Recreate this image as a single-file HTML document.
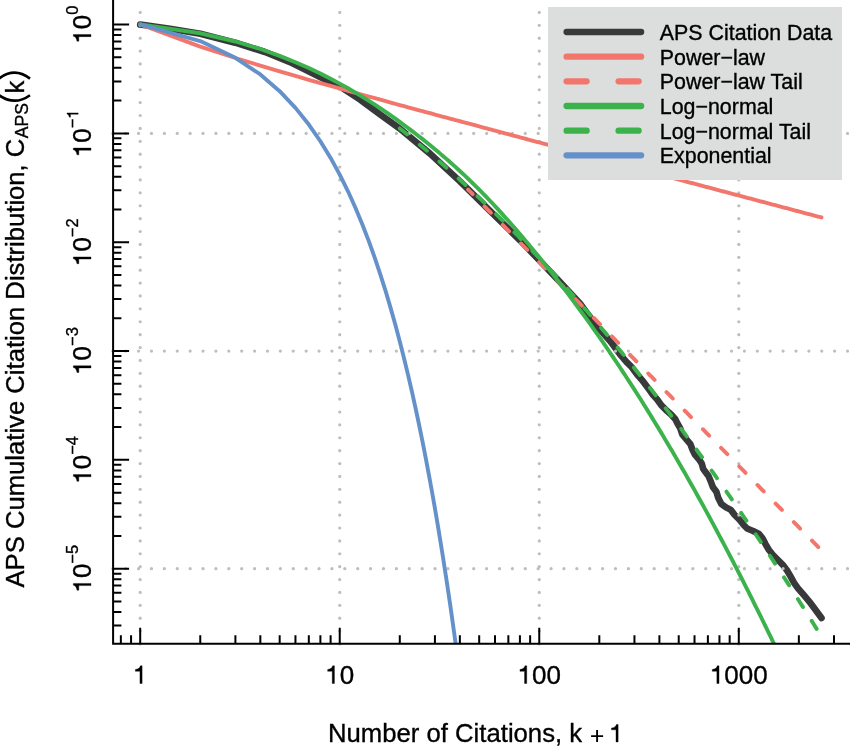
<!DOCTYPE html>
<html><head><meta charset="utf-8"><style>
html,body{margin:0;padding:0;background:#fff;}
body{width:850px;height:746px;overflow:hidden;font-family:"Liberation Sans",sans-serif;}
svg{display:block;will-change:transform;}
text{stroke:#000;stroke-width:0.35px;}
</style></head><body>
<svg width="850" height="746" viewBox="0 0 850 746"><defs><clipPath id="pc"><rect x="113" y="-10" width="750" height="654"/></clipPath></defs><g clip-path="url(#pc)" fill="none" stroke-linecap="round" stroke-linejoin="round"><path d="M140.20,24.60 L170.00,28.80 L200.30,33.70 L235.20,42.70 L265.00,52.00 L290.00,62.10 L320.00,77.00 L340.00,86.40 L360.00,99.50 L380.00,114.40 L400.00,128.70 L430.00,153.60 L460.00,181.40 L490.00,210.80 L520.00,240.30 L540.00,261.00 L560.00,282.00 L580.00,303.50 L596.70,326.10 L603.70,333.90 L610.70,341.80 L615.90,348.70 L621.10,355.70 L626.40,361.80 L631.60,367.00 L636.80,374.00 L642.00,380.10 L648.60,388.80 L652.90,394.70 L657.20,399.50 L661.40,405.40 L665.70,409.70 L671.10,414.50 L675.40,419.30 L677.00,422.70 L680.40,428.70 L682.40,434.70 L686.40,439.40 L690.40,444.10 L692.40,449.50 L695.10,454.90 L699.10,459.50 L701.80,463.60 L703.20,468.90 L704.90,471.20 L708.50,476.00 L711.00,482.10 L712.80,486.90 L716.40,491.70 L718.20,497.80 L721.20,503.80 L726.00,507.40 L730.90,509.90 L734.50,514.70 L739.50,519.80 L744.10,525.50 L747.10,528.50 L753.10,531.00 L759.10,534.00 L762.80,538.80 L765.20,543.60 L768.80,549.70 L773.60,555.70 L778.50,560.50 L783.30,565.40 L786.90,570.20 L790.40,576.10 L794.10,582.80 L797.80,588.10 L803.50,594.70 L809.10,601.30 L814.70,608.80 L821.50,618.00" stroke="#38393b" stroke-width="6.6"/></g><g fill="#bebebe"><circle cx="112.80" cy="133.38" r="1.6"/><circle cx="125.69" cy="133.38" r="1.6"/><circle cx="138.58" cy="133.38" r="1.6"/><circle cx="151.47" cy="133.38" r="1.6"/><circle cx="164.36" cy="133.38" r="1.6"/><circle cx="177.25" cy="133.38" r="1.6"/><circle cx="190.14" cy="133.38" r="1.6"/><circle cx="203.03" cy="133.38" r="1.6"/><circle cx="215.92" cy="133.38" r="1.6"/><circle cx="228.81" cy="133.38" r="1.6"/><circle cx="241.70" cy="133.38" r="1.6"/><circle cx="254.59" cy="133.38" r="1.6"/><circle cx="267.48" cy="133.38" r="1.6"/><circle cx="280.37" cy="133.38" r="1.6"/><circle cx="293.26" cy="133.38" r="1.6"/><circle cx="306.15" cy="133.38" r="1.6"/><circle cx="319.04" cy="133.38" r="1.6"/><circle cx="331.93" cy="133.38" r="1.6"/><circle cx="344.82" cy="133.38" r="1.6"/><circle cx="357.71" cy="133.38" r="1.6"/><circle cx="370.60" cy="133.38" r="1.6"/><circle cx="383.49" cy="133.38" r="1.6"/><circle cx="396.38" cy="133.38" r="1.6"/><circle cx="409.27" cy="133.38" r="1.6"/><circle cx="422.16" cy="133.38" r="1.6"/><circle cx="435.05" cy="133.38" r="1.6"/><circle cx="447.94" cy="133.38" r="1.6"/><circle cx="460.83" cy="133.38" r="1.6"/><circle cx="473.72" cy="133.38" r="1.6"/><circle cx="486.61" cy="133.38" r="1.6"/><circle cx="499.50" cy="133.38" r="1.6"/><circle cx="512.39" cy="133.38" r="1.6"/><circle cx="525.28" cy="133.38" r="1.6"/><circle cx="538.17" cy="133.38" r="1.6"/><circle cx="551.06" cy="133.38" r="1.6"/><circle cx="563.95" cy="133.38" r="1.6"/><circle cx="576.84" cy="133.38" r="1.6"/><circle cx="589.73" cy="133.38" r="1.6"/><circle cx="602.62" cy="133.38" r="1.6"/><circle cx="615.51" cy="133.38" r="1.6"/><circle cx="628.40" cy="133.38" r="1.6"/><circle cx="641.29" cy="133.38" r="1.6"/><circle cx="654.18" cy="133.38" r="1.6"/><circle cx="667.07" cy="133.38" r="1.6"/><circle cx="679.96" cy="133.38" r="1.6"/><circle cx="692.85" cy="133.38" r="1.6"/><circle cx="705.74" cy="133.38" r="1.6"/><circle cx="718.63" cy="133.38" r="1.6"/><circle cx="731.52" cy="133.38" r="1.6"/><circle cx="744.41" cy="133.38" r="1.6"/><circle cx="757.30" cy="133.38" r="1.6"/><circle cx="770.19" cy="133.38" r="1.6"/><circle cx="783.08" cy="133.38" r="1.6"/><circle cx="795.97" cy="133.38" r="1.6"/><circle cx="808.86" cy="133.38" r="1.6"/><circle cx="821.75" cy="133.38" r="1.6"/><circle cx="834.64" cy="133.38" r="1.6"/><circle cx="847.53" cy="133.38" r="1.6"/><circle cx="112.80" cy="351.04" r="1.6"/><circle cx="125.69" cy="351.04" r="1.6"/><circle cx="138.58" cy="351.04" r="1.6"/><circle cx="151.47" cy="351.04" r="1.6"/><circle cx="164.36" cy="351.04" r="1.6"/><circle cx="177.25" cy="351.04" r="1.6"/><circle cx="190.14" cy="351.04" r="1.6"/><circle cx="203.03" cy="351.04" r="1.6"/><circle cx="215.92" cy="351.04" r="1.6"/><circle cx="228.81" cy="351.04" r="1.6"/><circle cx="241.70" cy="351.04" r="1.6"/><circle cx="254.59" cy="351.04" r="1.6"/><circle cx="267.48" cy="351.04" r="1.6"/><circle cx="280.37" cy="351.04" r="1.6"/><circle cx="293.26" cy="351.04" r="1.6"/><circle cx="306.15" cy="351.04" r="1.6"/><circle cx="319.04" cy="351.04" r="1.6"/><circle cx="331.93" cy="351.04" r="1.6"/><circle cx="344.82" cy="351.04" r="1.6"/><circle cx="357.71" cy="351.04" r="1.6"/><circle cx="370.60" cy="351.04" r="1.6"/><circle cx="383.49" cy="351.04" r="1.6"/><circle cx="396.38" cy="351.04" r="1.6"/><circle cx="409.27" cy="351.04" r="1.6"/><circle cx="422.16" cy="351.04" r="1.6"/><circle cx="435.05" cy="351.04" r="1.6"/><circle cx="447.94" cy="351.04" r="1.6"/><circle cx="460.83" cy="351.04" r="1.6"/><circle cx="473.72" cy="351.04" r="1.6"/><circle cx="486.61" cy="351.04" r="1.6"/><circle cx="499.50" cy="351.04" r="1.6"/><circle cx="512.39" cy="351.04" r="1.6"/><circle cx="525.28" cy="351.04" r="1.6"/><circle cx="538.17" cy="351.04" r="1.6"/><circle cx="551.06" cy="351.04" r="1.6"/><circle cx="563.95" cy="351.04" r="1.6"/><circle cx="576.84" cy="351.04" r="1.6"/><circle cx="589.73" cy="351.04" r="1.6"/><circle cx="602.62" cy="351.04" r="1.6"/><circle cx="615.51" cy="351.04" r="1.6"/><circle cx="628.40" cy="351.04" r="1.6"/><circle cx="641.29" cy="351.04" r="1.6"/><circle cx="654.18" cy="351.04" r="1.6"/><circle cx="667.07" cy="351.04" r="1.6"/><circle cx="679.96" cy="351.04" r="1.6"/><circle cx="692.85" cy="351.04" r="1.6"/><circle cx="705.74" cy="351.04" r="1.6"/><circle cx="718.63" cy="351.04" r="1.6"/><circle cx="731.52" cy="351.04" r="1.6"/><circle cx="744.41" cy="351.04" r="1.6"/><circle cx="757.30" cy="351.04" r="1.6"/><circle cx="770.19" cy="351.04" r="1.6"/><circle cx="783.08" cy="351.04" r="1.6"/><circle cx="795.97" cy="351.04" r="1.6"/><circle cx="808.86" cy="351.04" r="1.6"/><circle cx="821.75" cy="351.04" r="1.6"/><circle cx="834.64" cy="351.04" r="1.6"/><circle cx="847.53" cy="351.04" r="1.6"/><circle cx="112.80" cy="568.70" r="1.6"/><circle cx="125.69" cy="568.70" r="1.6"/><circle cx="138.58" cy="568.70" r="1.6"/><circle cx="151.47" cy="568.70" r="1.6"/><circle cx="164.36" cy="568.70" r="1.6"/><circle cx="177.25" cy="568.70" r="1.6"/><circle cx="190.14" cy="568.70" r="1.6"/><circle cx="203.03" cy="568.70" r="1.6"/><circle cx="215.92" cy="568.70" r="1.6"/><circle cx="228.81" cy="568.70" r="1.6"/><circle cx="241.70" cy="568.70" r="1.6"/><circle cx="254.59" cy="568.70" r="1.6"/><circle cx="267.48" cy="568.70" r="1.6"/><circle cx="280.37" cy="568.70" r="1.6"/><circle cx="293.26" cy="568.70" r="1.6"/><circle cx="306.15" cy="568.70" r="1.6"/><circle cx="319.04" cy="568.70" r="1.6"/><circle cx="331.93" cy="568.70" r="1.6"/><circle cx="344.82" cy="568.70" r="1.6"/><circle cx="357.71" cy="568.70" r="1.6"/><circle cx="370.60" cy="568.70" r="1.6"/><circle cx="383.49" cy="568.70" r="1.6"/><circle cx="396.38" cy="568.70" r="1.6"/><circle cx="409.27" cy="568.70" r="1.6"/><circle cx="422.16" cy="568.70" r="1.6"/><circle cx="435.05" cy="568.70" r="1.6"/><circle cx="447.94" cy="568.70" r="1.6"/><circle cx="460.83" cy="568.70" r="1.6"/><circle cx="473.72" cy="568.70" r="1.6"/><circle cx="486.61" cy="568.70" r="1.6"/><circle cx="499.50" cy="568.70" r="1.6"/><circle cx="512.39" cy="568.70" r="1.6"/><circle cx="525.28" cy="568.70" r="1.6"/><circle cx="538.17" cy="568.70" r="1.6"/><circle cx="551.06" cy="568.70" r="1.6"/><circle cx="563.95" cy="568.70" r="1.6"/><circle cx="576.84" cy="568.70" r="1.6"/><circle cx="589.73" cy="568.70" r="1.6"/><circle cx="602.62" cy="568.70" r="1.6"/><circle cx="615.51" cy="568.70" r="1.6"/><circle cx="628.40" cy="568.70" r="1.6"/><circle cx="641.29" cy="568.70" r="1.6"/><circle cx="654.18" cy="568.70" r="1.6"/><circle cx="667.07" cy="568.70" r="1.6"/><circle cx="679.96" cy="568.70" r="1.6"/><circle cx="692.85" cy="568.70" r="1.6"/><circle cx="705.74" cy="568.70" r="1.6"/><circle cx="718.63" cy="568.70" r="1.6"/><circle cx="731.52" cy="568.70" r="1.6"/><circle cx="744.41" cy="568.70" r="1.6"/><circle cx="757.30" cy="568.70" r="1.6"/><circle cx="770.19" cy="568.70" r="1.6"/><circle cx="783.08" cy="568.70" r="1.6"/><circle cx="795.97" cy="568.70" r="1.6"/><circle cx="808.86" cy="568.70" r="1.6"/><circle cx="821.75" cy="568.70" r="1.6"/><circle cx="834.64" cy="568.70" r="1.6"/><circle cx="847.53" cy="568.70" r="1.6"/><circle cx="140.20" cy="644.00" r="1.6"/><circle cx="140.20" cy="631.11" r="1.6"/><circle cx="140.20" cy="618.22" r="1.6"/><circle cx="140.20" cy="605.33" r="1.6"/><circle cx="140.20" cy="592.44" r="1.6"/><circle cx="140.20" cy="579.55" r="1.6"/><circle cx="140.20" cy="566.66" r="1.6"/><circle cx="140.20" cy="553.77" r="1.6"/><circle cx="140.20" cy="540.88" r="1.6"/><circle cx="140.20" cy="527.99" r="1.6"/><circle cx="140.20" cy="515.10" r="1.6"/><circle cx="140.20" cy="502.21" r="1.6"/><circle cx="140.20" cy="489.32" r="1.6"/><circle cx="140.20" cy="476.43" r="1.6"/><circle cx="140.20" cy="463.54" r="1.6"/><circle cx="140.20" cy="450.65" r="1.6"/><circle cx="140.20" cy="437.76" r="1.6"/><circle cx="140.20" cy="424.87" r="1.6"/><circle cx="140.20" cy="411.98" r="1.6"/><circle cx="140.20" cy="399.09" r="1.6"/><circle cx="140.20" cy="386.20" r="1.6"/><circle cx="140.20" cy="373.31" r="1.6"/><circle cx="140.20" cy="360.42" r="1.6"/><circle cx="140.20" cy="347.53" r="1.6"/><circle cx="140.20" cy="334.64" r="1.6"/><circle cx="140.20" cy="321.75" r="1.6"/><circle cx="140.20" cy="308.86" r="1.6"/><circle cx="140.20" cy="295.97" r="1.6"/><circle cx="140.20" cy="283.08" r="1.6"/><circle cx="140.20" cy="270.19" r="1.6"/><circle cx="140.20" cy="257.30" r="1.6"/><circle cx="140.20" cy="244.41" r="1.6"/><circle cx="140.20" cy="231.52" r="1.6"/><circle cx="140.20" cy="218.63" r="1.6"/><circle cx="140.20" cy="205.74" r="1.6"/><circle cx="140.20" cy="192.85" r="1.6"/><circle cx="140.20" cy="179.96" r="1.6"/><circle cx="140.20" cy="167.07" r="1.6"/><circle cx="140.20" cy="154.18" r="1.6"/><circle cx="140.20" cy="141.29" r="1.6"/><circle cx="140.20" cy="128.40" r="1.6"/><circle cx="140.20" cy="115.51" r="1.6"/><circle cx="140.20" cy="102.62" r="1.6"/><circle cx="140.20" cy="89.73" r="1.6"/><circle cx="140.20" cy="76.84" r="1.6"/><circle cx="140.20" cy="63.95" r="1.6"/><circle cx="140.20" cy="51.06" r="1.6"/><circle cx="140.20" cy="38.17" r="1.6"/><circle cx="140.20" cy="25.28" r="1.6"/><circle cx="140.20" cy="12.39" r="1.6"/><circle cx="339.73" cy="644.00" r="1.6"/><circle cx="339.73" cy="631.11" r="1.6"/><circle cx="339.73" cy="618.22" r="1.6"/><circle cx="339.73" cy="605.33" r="1.6"/><circle cx="339.73" cy="592.44" r="1.6"/><circle cx="339.73" cy="579.55" r="1.6"/><circle cx="339.73" cy="566.66" r="1.6"/><circle cx="339.73" cy="553.77" r="1.6"/><circle cx="339.73" cy="540.88" r="1.6"/><circle cx="339.73" cy="527.99" r="1.6"/><circle cx="339.73" cy="515.10" r="1.6"/><circle cx="339.73" cy="502.21" r="1.6"/><circle cx="339.73" cy="489.32" r="1.6"/><circle cx="339.73" cy="476.43" r="1.6"/><circle cx="339.73" cy="463.54" r="1.6"/><circle cx="339.73" cy="450.65" r="1.6"/><circle cx="339.73" cy="437.76" r="1.6"/><circle cx="339.73" cy="424.87" r="1.6"/><circle cx="339.73" cy="411.98" r="1.6"/><circle cx="339.73" cy="399.09" r="1.6"/><circle cx="339.73" cy="386.20" r="1.6"/><circle cx="339.73" cy="373.31" r="1.6"/><circle cx="339.73" cy="360.42" r="1.6"/><circle cx="339.73" cy="347.53" r="1.6"/><circle cx="339.73" cy="334.64" r="1.6"/><circle cx="339.73" cy="321.75" r="1.6"/><circle cx="339.73" cy="308.86" r="1.6"/><circle cx="339.73" cy="295.97" r="1.6"/><circle cx="339.73" cy="283.08" r="1.6"/><circle cx="339.73" cy="270.19" r="1.6"/><circle cx="339.73" cy="257.30" r="1.6"/><circle cx="339.73" cy="244.41" r="1.6"/><circle cx="339.73" cy="231.52" r="1.6"/><circle cx="339.73" cy="218.63" r="1.6"/><circle cx="339.73" cy="205.74" r="1.6"/><circle cx="339.73" cy="192.85" r="1.6"/><circle cx="339.73" cy="179.96" r="1.6"/><circle cx="339.73" cy="167.07" r="1.6"/><circle cx="339.73" cy="154.18" r="1.6"/><circle cx="339.73" cy="141.29" r="1.6"/><circle cx="339.73" cy="128.40" r="1.6"/><circle cx="339.73" cy="115.51" r="1.6"/><circle cx="339.73" cy="102.62" r="1.6"/><circle cx="339.73" cy="89.73" r="1.6"/><circle cx="339.73" cy="76.84" r="1.6"/><circle cx="339.73" cy="63.95" r="1.6"/><circle cx="339.73" cy="51.06" r="1.6"/><circle cx="339.73" cy="38.17" r="1.6"/><circle cx="339.73" cy="25.28" r="1.6"/><circle cx="339.73" cy="12.39" r="1.6"/><circle cx="539.26" cy="644.00" r="1.6"/><circle cx="539.26" cy="631.11" r="1.6"/><circle cx="539.26" cy="618.22" r="1.6"/><circle cx="539.26" cy="605.33" r="1.6"/><circle cx="539.26" cy="592.44" r="1.6"/><circle cx="539.26" cy="579.55" r="1.6"/><circle cx="539.26" cy="566.66" r="1.6"/><circle cx="539.26" cy="553.77" r="1.6"/><circle cx="539.26" cy="540.88" r="1.6"/><circle cx="539.26" cy="527.99" r="1.6"/><circle cx="539.26" cy="515.10" r="1.6"/><circle cx="539.26" cy="502.21" r="1.6"/><circle cx="539.26" cy="489.32" r="1.6"/><circle cx="539.26" cy="476.43" r="1.6"/><circle cx="539.26" cy="463.54" r="1.6"/><circle cx="539.26" cy="450.65" r="1.6"/><circle cx="539.26" cy="437.76" r="1.6"/><circle cx="539.26" cy="424.87" r="1.6"/><circle cx="539.26" cy="411.98" r="1.6"/><circle cx="539.26" cy="399.09" r="1.6"/><circle cx="539.26" cy="386.20" r="1.6"/><circle cx="539.26" cy="373.31" r="1.6"/><circle cx="539.26" cy="360.42" r="1.6"/><circle cx="539.26" cy="347.53" r="1.6"/><circle cx="539.26" cy="334.64" r="1.6"/><circle cx="539.26" cy="321.75" r="1.6"/><circle cx="539.26" cy="308.86" r="1.6"/><circle cx="539.26" cy="295.97" r="1.6"/><circle cx="539.26" cy="283.08" r="1.6"/><circle cx="539.26" cy="270.19" r="1.6"/><circle cx="539.26" cy="257.30" r="1.6"/><circle cx="539.26" cy="244.41" r="1.6"/><circle cx="539.26" cy="231.52" r="1.6"/><circle cx="539.26" cy="218.63" r="1.6"/><circle cx="539.26" cy="205.74" r="1.6"/><circle cx="539.26" cy="192.85" r="1.6"/><circle cx="539.26" cy="179.96" r="1.6"/><circle cx="539.26" cy="167.07" r="1.6"/><circle cx="539.26" cy="154.18" r="1.6"/><circle cx="539.26" cy="141.29" r="1.6"/><circle cx="539.26" cy="128.40" r="1.6"/><circle cx="539.26" cy="115.51" r="1.6"/><circle cx="539.26" cy="102.62" r="1.6"/><circle cx="539.26" cy="89.73" r="1.6"/><circle cx="539.26" cy="76.84" r="1.6"/><circle cx="539.26" cy="63.95" r="1.6"/><circle cx="539.26" cy="51.06" r="1.6"/><circle cx="539.26" cy="38.17" r="1.6"/><circle cx="539.26" cy="25.28" r="1.6"/><circle cx="539.26" cy="12.39" r="1.6"/><circle cx="738.79" cy="644.00" r="1.6"/><circle cx="738.79" cy="631.11" r="1.6"/><circle cx="738.79" cy="618.22" r="1.6"/><circle cx="738.79" cy="605.33" r="1.6"/><circle cx="738.79" cy="592.44" r="1.6"/><circle cx="738.79" cy="579.55" r="1.6"/><circle cx="738.79" cy="566.66" r="1.6"/><circle cx="738.79" cy="553.77" r="1.6"/><circle cx="738.79" cy="540.88" r="1.6"/><circle cx="738.79" cy="527.99" r="1.6"/><circle cx="738.79" cy="515.10" r="1.6"/><circle cx="738.79" cy="502.21" r="1.6"/><circle cx="738.79" cy="489.32" r="1.6"/><circle cx="738.79" cy="476.43" r="1.6"/><circle cx="738.79" cy="463.54" r="1.6"/><circle cx="738.79" cy="450.65" r="1.6"/><circle cx="738.79" cy="437.76" r="1.6"/><circle cx="738.79" cy="424.87" r="1.6"/><circle cx="738.79" cy="411.98" r="1.6"/><circle cx="738.79" cy="399.09" r="1.6"/><circle cx="738.79" cy="386.20" r="1.6"/><circle cx="738.79" cy="373.31" r="1.6"/><circle cx="738.79" cy="360.42" r="1.6"/><circle cx="738.79" cy="347.53" r="1.6"/><circle cx="738.79" cy="334.64" r="1.6"/><circle cx="738.79" cy="321.75" r="1.6"/><circle cx="738.79" cy="308.86" r="1.6"/><circle cx="738.79" cy="295.97" r="1.6"/><circle cx="738.79" cy="283.08" r="1.6"/><circle cx="738.79" cy="270.19" r="1.6"/><circle cx="738.79" cy="257.30" r="1.6"/><circle cx="738.79" cy="244.41" r="1.6"/><circle cx="738.79" cy="231.52" r="1.6"/><circle cx="738.79" cy="218.63" r="1.6"/><circle cx="738.79" cy="205.74" r="1.6"/><circle cx="738.79" cy="192.85" r="1.6"/><circle cx="738.79" cy="179.96" r="1.6"/><circle cx="738.79" cy="167.07" r="1.6"/><circle cx="738.79" cy="154.18" r="1.6"/><circle cx="738.79" cy="141.29" r="1.6"/><circle cx="738.79" cy="128.40" r="1.6"/><circle cx="738.79" cy="115.51" r="1.6"/><circle cx="738.79" cy="102.62" r="1.6"/><circle cx="738.79" cy="89.73" r="1.6"/><circle cx="738.79" cy="76.84" r="1.6"/><circle cx="738.79" cy="63.95" r="1.6"/><circle cx="738.79" cy="51.06" r="1.6"/><circle cx="738.79" cy="38.17" r="1.6"/><circle cx="738.79" cy="25.28" r="1.6"/><circle cx="738.79" cy="12.39" r="1.6"/></g><g clip-path="url(#pc)" fill="none" stroke-linecap="round" stroke-linejoin="round" stroke-width="3.9"><path d="M140.20,24.40 L200.26,46.61 L235.40,58.00 L260.33,65.63 L279.67,71.36 L295.46,75.95 L308.82,79.78 L320.39,83.06 L330.60,85.94 L339.73,88.49 L347.99,90.79 L355.53,92.88 L362.47,94.79 L368.89,96.56 L374.87,98.21 L380.46,99.74 L385.71,101.17 L390.66,102.53 L395.35,103.80 L399.79,105.01 L404.02,106.16 L408.05,107.26 L411.91,108.30 L415.59,109.30 L419.13,110.26 L422.53,111.18 L425.80,112.07 L428.95,112.92 L431.99,113.74 L434.93,114.53 L437.77,115.30 L440.52,116.04 L443.19,116.76 L445.78,117.46 L448.29,118.13 L450.73,118.79 L453.10,119.43 L455.41,120.05 L457.67,120.65 L459.86,121.24 L462.00,121.82 L464.09,122.38 L466.13,122.93 L468.12,123.46 L470.07,123.98 L471.97,124.49 L473.83,124.99 L475.66,125.48 L477.44,125.96 L479.20,126.43 L480.91,126.89 L482.59,127.34 L484.24,127.79 L485.86,128.22 L487.45,128.64 L489.02,129.06 L490.55,129.47 L492.06,129.88 L493.54,130.27 L494.99,130.66 L497.84,131.42 L500.59,132.16 L503.25,132.87 L505.84,133.56 L508.35,134.24 L510.79,134.89 L513.17,135.52 L515.48,136.14 L517.73,136.74 L519.92,137.33 L522.06,137.90 L524.15,138.45 L526.19,139.00 L528.18,139.53 L530.13,140.05 L532.03,140.56 L533.90,141.06 L535.72,141.54 L537.51,142.02 L539.26,142.49 L541.82,143.17 L544.31,143.83 L546.73,144.48 L549.08,145.10 L551.37,145.71 L553.60,146.31 L555.78,146.89 L557.90,147.45 L559.97,148.01 L562.00,148.55 L563.97,149.07 L565.91,149.59 L567.80,150.09 L569.65,150.58 L571.46,151.07 L573.23,151.54 L574.97,152.00 L577.24,152.60 L579.44,153.19 L581.60,153.77 L583.70,154.32 L585.75,154.87 L587.75,155.40 L589.71,155.92 L591.63,156.43 L593.50,156.93 L595.33,157.42 L597.13,157.90 L598.89,158.37 L600.61,158.83 L602.72,159.39 L604.78,159.93 L606.79,160.47 L608.76,160.99 L610.68,161.50 L612.56,162.00 L614.40,162.49 L616.20,162.97 L617.96,163.44 L619.69,163.90 L621.73,164.44 L623.71,164.97 L625.65,165.48 L627.55,165.99 L629.40,166.48 L631.22,166.96 L633.00,167.44 L634.75,167.90 L636.74,168.43 L638.69,168.95 L640.59,169.45 L642.46,169.95 L644.28,170.43 L646.07,170.91 L647.82,171.37 L649.78,171.90 L651.69,172.40 L653.57,172.90 L655.40,173.39 L657.20,173.87 L658.95,174.33 L660.68,174.79 L662.58,175.30 L664.44,175.79 L666.26,176.27 L668.04,176.75 L669.79,177.21 L671.69,177.72 L673.55,178.21 L675.37,178.69 L677.15,179.17 L678.90,179.63 L680.78,180.13 L682.62,180.62 L684.43,181.10 L686.19,181.57 L687.92,182.03 L689.78,182.52 L691.59,183.00 L693.36,183.47 L695.10,183.94 L696.95,184.43 L698.75,184.91 L700.52,185.38 L702.26,185.84 L704.09,186.32 L705.88,186.80 L707.63,187.26 L709.36,187.72 L711.16,188.20 L712.93,188.67 L714.67,189.13 L716.48,189.61 L718.25,190.08 L719.99,190.55 L721.80,191.03 L723.58,191.50 L725.32,191.96 L727.12,192.44 L728.89,192.91 L730.62,193.37 L732.41,193.84 L734.16,194.31 L735.88,194.76 L737.66,195.24 L739.39,195.70 L741.18,196.17 L742.94,196.64 L744.65,197.09 L746.42,197.56 L748.15,198.02 L749.92,198.49 L751.65,198.95 L753.43,199.42 L755.16,199.88 L756.94,200.35 L758.68,200.82 L760.45,201.29 L762.19,201.75 L763.96,202.22 L765.69,202.68 L767.45,203.14 L769.18,203.60 L770.93,204.07 L772.65,204.52 L774.39,204.99 L776.15,205.45 L777.88,205.91 L779.63,206.38 L781.39,206.85 L783.12,207.31 L784.87,207.77 L786.64,208.24 L788.37,208.70 L790.11,209.16 L791.86,209.63 L793.58,210.08 L795.32,210.54 L797.06,211.00 L798.81,211.47 L800.53,211.92 L802.25,212.38 L803.99,212.84 L805.72,213.30 L807.47,213.77 L809.21,214.23 L810.97,214.70 L812.72,215.16 L814.44,215.62 L816.16,216.07 L817.88,216.53 L819.60,216.99 L821.32,217.44 L821.50,217.49" stroke="#f2766c"/><path d="M468.12,189.52 L470.07,191.51 L471.97,193.46 L473.83,195.36 L475.66,197.22 L477.44,199.05 L479.20,200.83 L480.91,202.59 L482.59,204.30 L484.24,205.99 L485.86,207.64 L487.45,209.27 L489.02,210.86 L490.55,212.43 L492.06,213.97 L493.54,215.48 L494.99,216.97 L497.84,219.87 L500.59,222.68 L503.25,225.40 L505.84,228.04 L508.35,230.61 L510.79,233.10 L513.17,235.52 L515.48,237.88 L517.73,240.18 L519.92,242.42 L522.06,244.61 L524.15,246.74 L526.19,248.82 L528.18,250.86 L530.13,252.85 L532.03,254.79 L533.90,256.69 L535.72,258.56 L537.51,260.38 L539.26,262.17 L541.82,264.78 L544.31,267.32 L546.73,269.79 L549.08,272.20 L551.37,274.54 L553.60,276.81 L555.78,279.04 L557.90,281.20 L559.97,283.32 L562.00,285.38 L563.97,287.40 L565.91,289.38 L567.80,291.31 L569.65,293.20 L571.46,295.05 L573.23,296.86 L574.97,298.63 L577.24,300.95 L579.44,303.20 L581.60,305.40 L583.70,307.55 L585.75,309.64 L587.75,311.69 L589.71,313.69 L591.63,315.64 L593.50,317.56 L595.33,319.43 L597.13,321.26 L598.89,323.06 L600.61,324.82 L602.72,326.97 L604.78,329.08 L606.79,331.13 L608.76,333.14 L610.68,335.10 L612.56,337.02 L614.40,338.90 L616.20,340.74 L617.96,342.54 L619.69,344.30 L621.73,346.38 L623.71,348.40 L625.65,350.39 L627.55,352.32 L629.40,354.22 L631.22,356.08 L633.00,357.89 L634.75,359.68 L636.74,361.71 L638.69,363.70 L640.59,365.64 L642.46,367.55 L644.28,369.41 L646.07,371.23 L647.82,373.02 L649.78,375.02 L651.69,376.98 L653.57,378.89 L655.40,380.76 L657.20,382.60 L658.95,384.39 L660.68,386.15 L662.58,388.10 L664.44,389.99 L666.26,391.85 L668.04,393.67 L669.79,395.46 L671.69,397.40 L673.55,399.30 L675.37,401.15 L677.15,402.98 L678.90,404.76 L680.78,406.68 L682.62,408.56 L684.43,410.40 L686.19,412.21 L687.92,413.98 L689.78,415.87 L691.59,417.72 L693.36,419.53 L695.10,421.30 L696.95,423.19 L698.75,425.03 L700.52,426.84 L702.26,428.61 L704.09,430.48 L705.88,432.31 L707.63,434.10 L709.36,435.86 L711.16,437.71 L712.93,439.51 L714.67,441.28 L716.48,443.13 L718.25,444.95 L719.99,446.72 L721.80,448.57 L723.58,450.38 L725.32,452.16 L727.12,454.00 L728.89,455.80 L730.62,457.57 L732.41,459.40 L734.16,461.19 L735.88,462.95 L737.66,464.76 L739.39,466.53 L741.18,468.36 L742.94,470.15 L744.65,471.90 L746.42,473.71 L748.15,475.47 L749.92,477.28 L751.65,479.05 L753.43,480.86 L755.16,482.64 L756.94,484.45 L758.68,486.23 L760.45,488.04 L762.19,489.81 L763.96,491.62 L765.69,493.39 L767.45,495.18 L769.18,496.95 L770.93,498.73 L772.65,500.49 L774.39,502.27 L776.15,504.07 L777.88,505.83 L779.63,507.62 L781.39,509.42 L783.12,511.19 L784.87,512.98 L786.64,514.78 L788.37,516.54 L790.11,518.32 L791.86,520.11 L793.58,521.87 L795.32,523.64 L797.06,525.42 L798.81,527.21 L800.53,528.96 L802.25,530.72 L803.99,532.49 L805.72,534.27 L807.47,536.05 L809.21,537.83 L810.97,539.62 L812.72,541.41 L814.44,543.16 L816.16,544.92 L817.88,546.68 L819.60,548.44 L821.32,550.20 L821.50,550.38" stroke="#f2766c" stroke-dasharray="9 17" stroke-dashoffset="2.5"/><path d="M140.20,24.40 L200.26,33.26 L235.40,41.49 L260.33,49.00 L279.67,55.86 L295.46,62.20 L308.82,68.08 L320.39,73.58 L330.60,78.74 L339.73,83.63 L347.99,88.25 L355.53,92.66 L362.47,96.86 L368.89,100.87 L374.87,104.72 L380.46,108.42 L385.71,111.97 L390.66,115.40 L395.35,118.71 L399.79,121.90 L404.02,124.99 L408.05,127.99 L411.91,130.89 L415.59,133.71 L419.13,136.46 L422.53,139.13 L425.80,141.73 L428.95,144.27 L431.99,146.75 L434.93,149.17 L437.77,151.54 L440.52,153.87 L443.19,156.14 L445.78,158.38 L448.29,160.57 L450.73,162.72 L453.10,164.84 L455.41,166.92 L457.67,168.97 L459.86,170.98 L462.00,172.97 L464.09,174.92 L466.13,176.85 L468.12,178.75 L470.07,180.63 L471.97,182.48 L473.83,184.30 L475.66,186.10 L477.44,187.88 L479.20,189.64 L480.91,191.37 L482.59,193.08 L484.24,194.78 L485.86,196.45 L487.45,198.10 L489.02,199.73 L490.55,201.35 L492.06,202.94 L493.54,204.52 L494.99,206.08 L497.84,209.15 L500.59,212.15 L503.25,215.09 L505.84,217.97 L508.35,220.79 L510.79,223.55 L513.17,226.25 L515.48,228.90 L517.73,231.51 L519.92,234.06 L522.06,236.56 L524.15,239.02 L526.19,241.44 L528.18,243.81 L530.13,246.15 L532.03,248.44 L533.90,250.69 L535.72,252.91 L537.51,255.09 L539.26,257.24 L541.82,260.40 L544.31,263.49 L546.73,266.52 L549.08,269.48 L551.37,272.37 L553.60,275.21 L555.78,278.00 L557.90,280.72 L559.97,283.40 L562.00,286.03 L563.97,288.62 L565.91,291.15 L567.80,293.65 L569.65,296.10 L571.46,298.51 L573.23,300.89 L574.97,303.23 L577.24,306.29 L579.44,309.29 L581.60,312.23 L583.70,315.11 L585.75,317.95 L587.75,320.73 L589.71,323.46 L591.63,326.14 L593.50,328.78 L595.33,331.38 L597.13,333.93 L598.89,336.45 L600.61,338.92 L602.72,341.96 L604.78,344.94 L606.79,347.87 L608.76,350.75 L610.68,353.57 L612.56,356.35 L614.40,359.08 L616.20,361.77 L617.96,364.41 L619.69,367.01 L621.73,370.08 L623.71,373.09 L625.65,376.05 L627.55,378.96 L629.40,381.82 L631.22,384.63 L633.00,387.40 L634.75,390.12 L636.74,393.24 L638.69,396.30 L640.59,399.31 L642.46,402.27 L644.28,405.18 L646.07,408.04 L647.82,410.85 L649.78,414.02 L651.69,417.12 L653.57,420.17 L655.40,423.17 L657.20,426.12 L658.95,429.02 L660.68,431.88 L662.58,435.04 L664.44,438.14 L666.26,441.19 L668.04,444.19 L669.79,447.14 L671.69,450.36 L673.55,453.53 L675.37,456.64 L677.15,459.70 L678.90,462.71 L680.78,465.97 L682.62,469.17 L684.43,472.31 L686.19,475.41 L687.92,478.45 L689.78,481.71 L691.59,484.92 L693.36,488.07 L695.10,491.17 L696.95,494.48 L698.75,497.73 L700.52,500.92 L702.26,504.06 L704.09,507.38 L705.88,510.65 L707.63,513.87 L709.36,517.03 L711.16,520.36 L712.93,523.63 L714.67,526.85 L716.48,530.23 L718.25,533.55 L719.99,536.82 L721.80,540.23 L723.58,543.58 L725.32,546.88 L727.12,550.31 L728.89,553.69 L730.62,557.00 L732.41,560.45 L734.16,563.83 L735.88,567.16 L737.66,570.61 L739.39,574.00 L741.18,577.50 L742.94,580.94 L744.65,584.32 L746.42,587.81 L748.15,591.24 L749.92,594.76 L751.65,598.22 L753.43,601.78 L755.16,605.27 L756.94,608.85 L758.68,612.37 L760.45,615.97 L762.19,619.50 L763.96,623.11 L765.69,626.66 L767.45,630.28 L769.18,633.84 L770.93,637.47 L772.65,641.03 L774.39,644.66 L776.15,648.34 L777.88,651.96 L779.63,655.64 L781.39,659.36 L783.12,663.02 L784.87,666.73 L786.64,670.49 L788.37,674.18 L790.11,677.91 L791.86,681.68 L793.58,685.39 L795.32,689.13 L797.06,692.91 L798.81,696.72 L800.53,700.46 L802.25,704.24 L803.99,708.04 L805.72,711.87 L807.47,715.71 L809.21,719.58 L810.97,723.47 L812.72,727.38 L814.44,731.21 L816.16,735.07 L817.88,738.94 L819.60,742.82 L821.32,746.71 L821.50,747.11" stroke="#3bb24c"/><path d="M399.79,128.40 L404.02,131.80 L408.05,135.07 L411.91,138.22 L415.59,141.26 L419.13,144.20 L422.53,147.05 L425.80,149.82 L428.95,152.50 L431.99,155.10 L434.93,157.63 L437.77,160.10 L440.52,162.50 L443.19,164.84 L445.78,167.12 L448.29,169.35 L450.73,171.53 L453.10,173.66 L455.41,175.74 L457.67,177.78 L459.86,179.78 L462.00,181.74 L464.09,183.65 L466.13,185.53 L468.12,187.38 L470.07,189.19 L471.97,190.96 L473.83,192.71 L475.66,194.42 L477.44,196.11 L479.20,197.77 L480.91,199.40 L482.59,201.00 L484.24,202.58 L485.86,204.14 L487.45,205.67 L489.02,207.18 L490.55,208.66 L492.06,210.13 L493.54,211.57 L494.99,213.00 L497.84,215.78 L500.59,218.50 L503.25,221.15 L505.84,223.73 L508.35,226.24 L510.79,228.70 L513.17,231.10 L515.48,233.45 L517.73,235.75 L519.92,237.99 L522.06,240.20 L524.15,242.35 L526.19,244.47 L528.18,246.54 L530.13,248.57 L532.03,250.57 L533.90,252.53 L535.72,254.46 L537.51,256.35 L539.26,258.21 L541.82,260.94 L544.31,263.61 L546.73,266.21 L549.08,268.75 L551.37,271.24 L553.60,273.67 L555.78,276.05 L557.90,278.38 L559.97,280.66 L562.00,282.90 L563.97,285.10 L565.91,287.25 L567.80,289.36 L569.65,291.44 L571.46,293.47 L573.23,295.48 L574.97,297.45 L577.24,300.02 L579.44,302.53 L581.60,305.00 L583.70,307.41 L585.75,309.77 L587.75,312.09 L589.71,314.36 L591.63,316.59 L593.50,318.78 L595.33,320.93 L597.13,323.04 L598.89,325.11 L600.61,327.15 L602.72,329.65 L604.78,332.10 L606.79,334.50 L608.76,336.85 L610.68,339.16 L612.56,341.42 L614.40,343.65 L616.20,345.83 L617.96,347.98 L619.69,350.09 L621.73,352.57 L623.71,355.00 L625.65,357.39 L627.55,359.73 L629.40,362.03 L631.22,364.29 L633.00,366.51 L634.75,368.69 L636.74,371.18 L638.69,373.63 L640.59,376.03 L642.46,378.38 L644.28,380.69 L646.07,382.97 L647.82,385.20 L649.78,387.70 L651.69,390.15 L653.57,392.56 L655.40,394.93 L657.20,397.25 L658.95,399.53 L660.68,401.77 L662.58,404.25 L664.44,406.68 L666.26,409.06 L668.04,411.41 L669.79,413.71 L671.69,416.22 L673.55,418.68 L675.37,421.10 L677.15,423.48 L678.90,425.81 L680.78,428.33 L682.62,430.81 L684.43,433.23 L686.19,435.62 L687.92,437.96 L689.78,440.47 L691.59,442.94 L693.36,445.36 L695.10,447.74 L696.95,450.27 L698.75,452.75 L700.52,455.19 L702.26,457.59 L704.09,460.13 L705.88,462.62 L707.63,465.06 L709.36,467.46 L711.16,469.99 L712.93,472.47 L714.67,474.91 L716.48,477.47 L718.25,479.98 L719.99,482.44 L721.80,485.02 L723.58,487.54 L725.32,490.03 L727.12,492.61 L728.89,495.14 L730.62,497.63 L732.41,500.21 L734.16,502.75 L735.88,505.24 L737.66,507.82 L739.39,510.35 L741.18,512.96 L742.94,515.52 L744.65,518.04 L746.42,520.63 L748.15,523.18 L749.92,525.79 L751.65,528.36 L753.43,530.99 L755.16,533.58 L756.94,536.22 L758.68,538.82 L760.45,541.48 L762.19,544.09 L763.96,546.75 L765.69,549.36 L767.45,552.02 L769.18,554.64 L770.93,557.30 L772.65,559.91 L774.39,562.57 L776.15,565.26 L777.88,567.91 L779.63,570.60 L781.39,573.32 L783.12,575.99 L784.87,578.69 L786.64,581.43 L788.37,584.11 L790.11,586.82 L791.86,589.56 L793.58,592.25 L795.32,594.97 L797.06,597.71 L798.81,600.46 L800.53,603.17 L802.25,605.90 L803.99,608.65 L805.72,611.41 L807.47,614.18 L809.21,616.97 L810.97,619.77 L812.72,622.58 L814.44,625.33 L816.16,628.10 L817.88,630.88 L819.60,633.66 L821.32,636.45 L821.50,636.74" stroke="#3bb24c" stroke-dasharray="9.4 16.4"/><path d="M140.20,24.40 L200.26,41.09 L235.40,57.78 L260.33,74.47 L279.67,91.16 L295.46,107.86 L308.82,124.55 L320.39,141.24 L330.60,157.93 L339.73,174.62 L347.99,191.31 L355.53,208.00 L362.47,224.69 L368.89,241.38 L374.87,258.07 L380.46,274.77 L385.71,291.46 L390.66,308.15 L395.35,324.84 L399.79,341.53 L404.02,358.22 L408.05,374.91 L411.91,391.60 L415.59,408.29 L419.13,424.98 L422.53,441.68 L425.80,458.37 L428.95,475.06 L431.99,491.75 L434.93,508.44 L437.77,525.13 L440.52,541.82 L443.19,558.51 L445.78,575.20 L448.29,591.90 L450.73,608.59 L453.10,625.28 L455.41,641.97 L457.67,658.66 L459.86,675.35 L462.00,692.04 L464.09,708.73" stroke="#6591ca"/></g><path d="M113.1,-2 V644.6 M112.1,643.7 H852" stroke="#000" stroke-width="2" fill="none"/><path d="M120.86,643.7 V635.20 M131.07,643.7 V635.20 M140.20,643.7 V627.70 M200.26,643.7 V635.20 M235.40,643.7 V635.20 M260.33,643.7 V635.20 M279.67,643.7 V635.20 M295.46,643.7 V635.20 M308.82,643.7 V635.20 M320.39,643.7 V635.20 M330.60,643.7 V635.20 M339.73,643.7 V627.70 M399.79,643.7 V635.20 M434.93,643.7 V635.20 M459.86,643.7 V635.20 M479.20,643.7 V635.20 M494.99,643.7 V635.20 M508.35,643.7 V635.20 M519.92,643.7 V635.20 M530.13,643.7 V635.20 M539.26,643.7 V627.70 M599.32,643.7 V635.20 M634.46,643.7 V635.20 M659.39,643.7 V635.20 M678.73,643.7 V635.20 M694.52,643.7 V635.20 M707.88,643.7 V635.20 M719.45,643.7 V635.20 M729.66,643.7 V635.20 M738.79,643.7 V627.70 M798.85,643.7 V635.20 M833.99,643.7 V635.20 M113.1,625.60 H121.40 M113.1,612.01 H121.40 M113.1,601.46 H121.40 M113.1,592.84 H121.40 M113.1,585.56 H121.40 M113.1,579.25 H121.40 M113.1,573.68 H121.40 M113.1,568.70 H129.10 M113.1,535.94 H121.40 M113.1,516.77 H121.40 M113.1,503.18 H121.40 M113.1,492.63 H121.40 M113.1,484.01 H121.40 M113.1,476.73 H121.40 M113.1,470.42 H121.40 M113.1,464.85 H121.40 M113.1,459.87 H129.10 M113.1,427.11 H121.40 M113.1,407.94 H121.40 M113.1,394.35 H121.40 M113.1,383.80 H121.40 M113.1,375.18 H121.40 M113.1,367.90 H121.40 M113.1,361.59 H121.40 M113.1,356.02 H121.40 M113.1,351.04 H129.10 M113.1,318.28 H121.40 M113.1,299.11 H121.40 M113.1,285.52 H121.40 M113.1,274.97 H121.40 M113.1,266.35 H121.40 M113.1,259.07 H121.40 M113.1,252.76 H121.40 M113.1,247.19 H121.40 M113.1,242.21 H129.10 M113.1,209.45 H121.40 M113.1,190.28 H121.40 M113.1,176.69 H121.40 M113.1,166.14 H121.40 M113.1,157.52 H121.40 M113.1,150.24 H121.40 M113.1,143.93 H121.40 M113.1,138.36 H121.40 M113.1,133.38 H129.10 M113.1,100.62 H121.40 M113.1,81.45 H121.40 M113.1,67.86 H121.40 M113.1,57.31 H121.40 M113.1,48.69 H121.40 M113.1,41.41 H121.40 M113.1,35.10 H121.40 M113.1,29.53 H121.40 M113.1,24.55 H129.10" stroke="#000" stroke-width="2" fill="none"/><g font-family="&quot;Liberation Sans&quot;, sans-serif" fill="#000"><path transform="translate(132.972,683.500) scale(26.0,-26.0)" d="M0.352,0 L0.352,0.68 L0.285,0.68 C0.262,0.6 0.21,0.555 0.092,0.54 L0.092,0.468 L0.268,0.468 L0.268,0 Z" fill="#000" stroke="#000" stroke-width="0.0135"/><path transform="translate(325.274,683.500) scale(26.0,-26.0)" d="M0.352,0 L0.352,0.68 L0.285,0.68 C0.262,0.6 0.21,0.555 0.092,0.54 L0.092,0.468 L0.268,0.468 L0.268,0 Z" fill="#000" stroke="#000" stroke-width="0.0135"/><text transform="" x="339.730" y="683.500" font-size="26.0">0</text><path transform="translate(517.576,683.500) scale(26.0,-26.0)" d="M0.352,0 L0.352,0.68 L0.285,0.68 C0.262,0.6 0.21,0.555 0.092,0.54 L0.092,0.468 L0.268,0.468 L0.268,0 Z" fill="#000" stroke="#000" stroke-width="0.0135"/><text transform="" x="532.032" y="683.500" font-size="26.0">0</text><text transform="" x="546.488" y="683.500" font-size="26.0">0</text><path transform="translate(709.878,683.500) scale(26.0,-26.0)" d="M0.352,0 L0.352,0.68 L0.285,0.68 C0.262,0.6 0.21,0.555 0.092,0.54 L0.092,0.468 L0.268,0.468 L0.268,0 Z" fill="#000" stroke="#000" stroke-width="0.0135"/><text transform="" x="724.334" y="683.500" font-size="26.0">0</text><text transform="" x="738.790" y="683.500" font-size="26.0">0</text><text transform="" x="753.246" y="683.500" font-size="26.0">0</text><path transform="translate(91,24.55) rotate(-90) translate(-19.043,0.000) scale(26.0,-26.0)" d="M0.352,0 L0.352,0.68 L0.285,0.68 C0.262,0.6 0.21,0.555 0.092,0.54 L0.092,0.468 L0.268,0.468 L0.268,0 Z" fill="#000" stroke="#000" stroke-width="0.0135"/><text transform="translate(91,24.55) rotate(-90) " x="-4.587" y="0.000" font-size="26.0">0</text><text transform="translate(91,24.55) rotate(-90) " x="9.869" y="-12.800" font-size="16.5">0</text><path transform="translate(91,133.38) rotate(-90) translate(-23.861,0.000) scale(26.0,-26.0)" d="M0.352,0 L0.352,0.68 L0.285,0.68 C0.262,0.6 0.21,0.555 0.092,0.54 L0.092,0.468 L0.268,0.468 L0.268,0 Z" fill="#000" stroke="#000" stroke-width="0.0135"/><text transform="translate(91,133.38) rotate(-90) " x="-9.405" y="0.000" font-size="26.0">0</text><text transform="translate(91,133.38) rotate(-90) " x="5.051" y="-12.800" font-size="16.5">−</text><path transform="translate(91,133.38) rotate(-90) translate(14.687,-12.800) scale(16.5,-16.5)" d="M0.352,0 L0.352,0.68 L0.285,0.68 C0.262,0.6 0.21,0.555 0.092,0.54 L0.092,0.468 L0.268,0.468 L0.268,0 Z" fill="#000" stroke="#000" stroke-width="0.0212"/><path transform="translate(91,242.21) rotate(-90) translate(-23.861,0.000) scale(26.0,-26.0)" d="M0.352,0 L0.352,0.68 L0.285,0.68 C0.262,0.6 0.21,0.555 0.092,0.54 L0.092,0.468 L0.268,0.468 L0.268,0 Z" fill="#000" stroke="#000" stroke-width="0.0135"/><text transform="translate(91,242.21) rotate(-90) " x="-9.405" y="0.000" font-size="26.0">0</text><text transform="translate(91,242.21) rotate(-90) " x="5.051" y="-12.800" font-size="16.5">−</text><text transform="translate(91,242.21) rotate(-90) " x="14.687" y="-12.800" font-size="16.5">2</text><path transform="translate(91,351.04) rotate(-90) translate(-23.861,0.000) scale(26.0,-26.0)" d="M0.352,0 L0.352,0.68 L0.285,0.68 C0.262,0.6 0.21,0.555 0.092,0.54 L0.092,0.468 L0.268,0.468 L0.268,0 Z" fill="#000" stroke="#000" stroke-width="0.0135"/><text transform="translate(91,351.04) rotate(-90) " x="-9.405" y="0.000" font-size="26.0">0</text><text transform="translate(91,351.04) rotate(-90) " x="5.051" y="-12.800" font-size="16.5">−</text><text transform="translate(91,351.04) rotate(-90) " x="14.687" y="-12.800" font-size="16.5">3</text><path transform="translate(91,459.87) rotate(-90) translate(-23.861,0.000) scale(26.0,-26.0)" d="M0.352,0 L0.352,0.68 L0.285,0.68 C0.262,0.6 0.21,0.555 0.092,0.54 L0.092,0.468 L0.268,0.468 L0.268,0 Z" fill="#000" stroke="#000" stroke-width="0.0135"/><text transform="translate(91,459.87) rotate(-90) " x="-9.405" y="0.000" font-size="26.0">0</text><text transform="translate(91,459.87) rotate(-90) " x="5.051" y="-12.800" font-size="16.5">−</text><text transform="translate(91,459.87) rotate(-90) " x="14.687" y="-12.800" font-size="16.5">4</text><path transform="translate(91,568.70) rotate(-90) translate(-23.861,0.000) scale(26.0,-26.0)" d="M0.352,0 L0.352,0.68 L0.285,0.68 C0.262,0.6 0.21,0.555 0.092,0.54 L0.092,0.468 L0.268,0.468 L0.268,0 Z" fill="#000" stroke="#000" stroke-width="0.0135"/><text transform="translate(91,568.70) rotate(-90) " x="-9.405" y="0.000" font-size="26.0">0</text><text transform="translate(91,568.70) rotate(-90) " x="5.051" y="-12.800" font-size="16.5">−</text><text transform="translate(91,568.70) rotate(-90) " x="14.687" y="-12.800" font-size="16.5">5</text></g><text x="328.0" y="741.9" font-family="&quot;Liberation Sans&quot;, sans-serif" font-size="25.7">Number of Citations, k</text><path d="M591.1,736.1 H603.1 M597.1,730.1 V741.9" stroke="#000" stroke-width="1.9" fill="none"/><path transform="translate(609.100,741.900) scale(25.7,-25.7)" d="M0.352,0 L0.352,0.68 L0.285,0.68 C0.262,0.6 0.21,0.555 0.092,0.54 L0.092,0.468 L0.268,0.468 L0.268,0 Z" fill="#000" stroke="#000" stroke-width="0.0136"/><g transform="translate(23.5,587.5) rotate(-90)" font-family="&quot;Liberation Sans&quot;, sans-serif"><text x="0" y="0" font-size="25.65">APS Cumulative Citation Distribution, C</text><text x="449.3" y="4.6" font-size="17.6">APS</text><text x="494.0" y="0" font-size="25.65">k</text></g><path d="M30,95.2 Q14.5,106.2 -1,95.2 M30,78.6 Q14.5,66.8 -1,78.6" stroke="#000" stroke-width="2.6" fill="none"/><rect x="548" y="7" width="294" height="173" fill="#dcdddd"/><path d="M566.6,32.00 H641.1" stroke="#38393b" stroke-width="6.3" stroke-linecap="round"/><text x="659.8" y="40.00" font-family="&quot;Liberation Sans&quot;, sans-serif" font-size="21.4">APS Citation Data</text><path d="M566.6,56.66 H641.1" stroke="#f2766c" stroke-width="6.3" stroke-linecap="round"/><text x="659.8" y="64.66" font-family="&quot;Liberation Sans&quot;, sans-serif" font-size="21.4">Power−law</text><path d="M566.6,81.32 H641.1" stroke="#f2766c" stroke-width="6.3" stroke-linecap="round" stroke-dasharray="20 32"/><text x="659.8" y="89.32" font-family="&quot;Liberation Sans&quot;, sans-serif" font-size="21.4">Power−law Tail</text><path d="M566.6,105.98 H641.1" stroke="#3bb24c" stroke-width="6.3" stroke-linecap="round"/><text x="659.8" y="113.98" font-family="&quot;Liberation Sans&quot;, sans-serif" font-size="21.4">Log−normal</text><path d="M566.6,130.64 H641.1" stroke="#3bb24c" stroke-width="6.3" stroke-linecap="round" stroke-dasharray="20 32"/><text x="659.8" y="138.64" font-family="&quot;Liberation Sans&quot;, sans-serif" font-size="21.4">Log−normal Tail</text><path d="M566.6,155.30 H641.1" stroke="#6591ca" stroke-width="6.3" stroke-linecap="round"/><text x="659.8" y="163.30" font-family="&quot;Liberation Sans&quot;, sans-serif" font-size="21.4">Exponential</text></svg>
</body></html>
